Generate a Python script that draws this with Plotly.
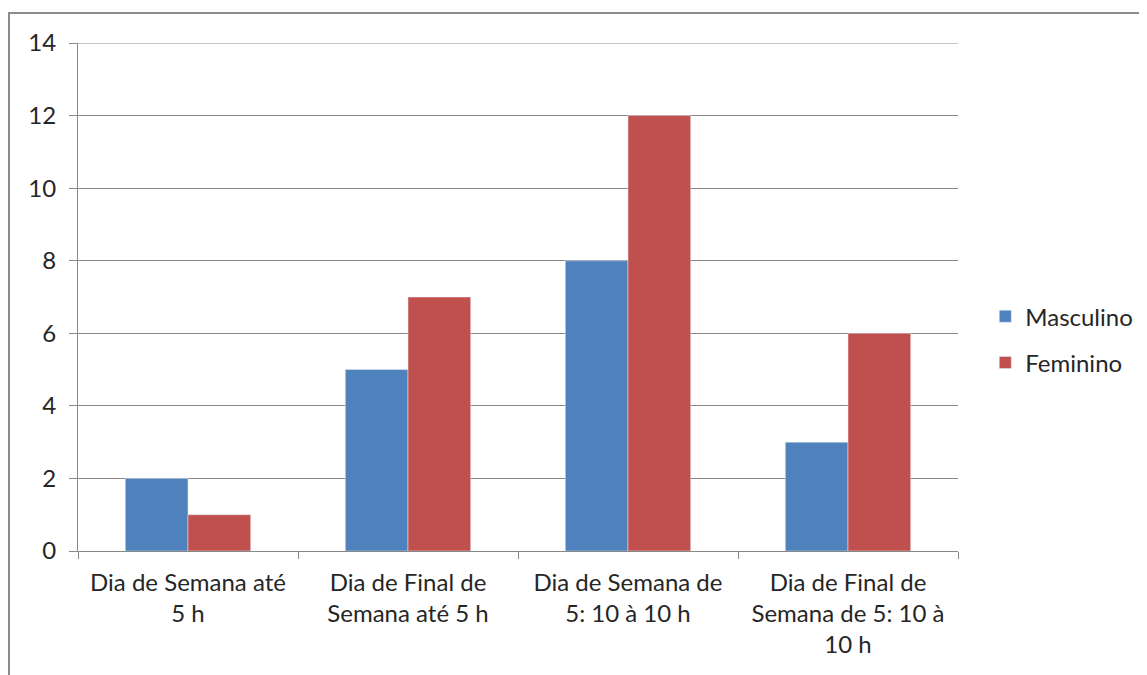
import plotly.graph_objects as go

categories = ["Dia de Semana até<br>5 h", "Dia de Final de<br>Semana até 5 h",
              "Dia de Semana de<br>5: 10 à 10 h", "Dia de Final de<br>Semana de 5: 10 à<br>10 h"]
masculino = [2, 5, 8, 3]
feminino = [1, 7, 12, 6]
y_ticks = [0, 2, 4, 6, 8, 10, 12, 14]

FONT = "Lato"
FS = 24
fig = go.Figure()
fig.add_trace(go.Bar(name="Masculino", x=categories, y=masculino, marker_color="#4F81BD",
                     legendgroup="m"))
fig.add_trace(go.Bar(name="Feminino", x=categories, y=feminino, marker_color="#C0504D",
                     legendgroup="f"))

fig.update_layout(
    width=1147, height=675,
    margin=dict(l=70, r=197, t=35, b=132),
    paper_bgcolor="white", plot_bgcolor="white",
    barmode="group", bargap=0.43, bargroupgap=0,
    font=dict(family=FONT, size=FS, color="#262626"),
    legend=dict(x=1.031, y=0.416, xanchor="left", yanchor="middle",
                font=dict(size=FS), tracegroupgap=12, itemwidth=30,
                traceorder="grouped"),
    xaxis=dict(showline=True, linecolor="#888888", linewidth=1,
               ticks="outside", tickson="boundaries", ticklen=7, tickcolor="#888888",
               tickfont=dict(size=FS), showgrid=False, ticklabelstandoff=10),
    yaxis=dict(range=[0, 14], tickvals=y_ticks, showgrid=True, gridcolor="#888888",
               gridwidth=1, showline=True, linecolor="#888888", ticks="outside",
               ticklen=8, tickcolor="#888888", zeroline=False, tickfont=dict(size=FS),
               ticklabelstandoff=8),
    shapes=[dict(type="rect", xref="paper", yref="paper",
                 x0=(1 - 70) / 880, x1=1.3, y0=-0.3, y1=1 + 30 / 508,
                 line=dict(color="#8C8C8C", width=2), fillcolor="rgba(0,0,0,0)", layer="below"),
            dict(type="line", xref="paper", yref="y", x0=0, x1=1,
                 y0=max(y_ticks), y1=max(y_ticks), line=dict(color="#888888", width=1))],
)
fig.write_html("out.html")
